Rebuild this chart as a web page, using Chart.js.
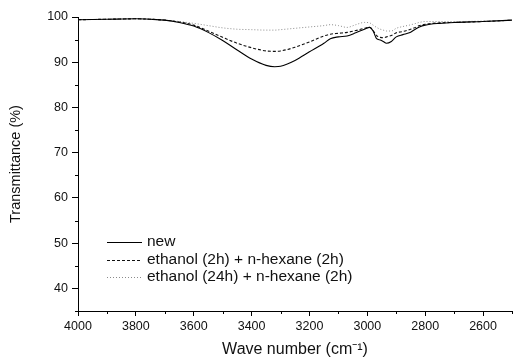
<!DOCTYPE html>
<html>
<head>
<meta charset="utf-8">
<script src="https://cdn.jsdelivr.net/npm/chart.js@4"></script>
<style>
  html, body { margin: 0; padding: 0; background: #fff; }
</style>
</head>
<body>
<canvas id="ftirChart" width="515" height="360"></canvas>
<script>
// wave numbers (cm-1) shared by all three spectra
const waveNumbers = [4000, 3900, 3800, 3750, 3700, 3650, 3600, 3550, 3500, 3450, 3400, 3350, 3320, 3300, 3250, 3200, 3150, 3128, 3100, 3070, 3040, 3010, 2992, 2980, 2968, 2955, 2945, 2934, 2917, 2900, 2877, 2855, 2837, 2820, 2800, 2750, 2700, 2600, 2500];

const newSample = [99.4, 99.5, 99.6, 99.5, 99.3, 98.8, 98.0, 96.6, 94.8, 92.7, 90.7, 89.3, 89.0, 89.1, 90.4, 92.3, 94.2, 95.2, 95.6, 95.8, 96.5, 97.3, 97.7, 96.9, 95.2, 94.9, 94.6, 94.2, 94.6, 95.6, 96.1, 96.5, 97.2, 97.8, 98.2, 98.6, 98.8, 99.0, 99.3];
const ethanol2h = [99.4, 99.5, 99.6, 99.5, 99.3, 98.9, 98.2, 96.9, 95.5, 94.2, 93.2, 92.5, 92.4, 92.5, 93.3, 94.5, 95.8, 96.2, 96.4, 96.6, 97.0, 97.5, 97.7, 97.0, 95.9, 95.5, 95.4, 95.6, 95.9, 96.5, 96.8, 97.2, 97.6, 98.1, 98.4, 98.7, 98.8, 99.0, 99.3];
const ethanol24h = [99.4, 99.5, 99.6, 99.5, 99.3, 99.0, 98.6, 98.1, 97.6, 97.3, 97.2, 97.1, 97.1, 97.2, 97.5, 97.8, 98.1, 98.3, 98.1, 97.7, 98.3, 98.8, 98.7, 98.2, 97.7, 97.3, 97.1, 96.9, 96.9, 97.5, 97.9, 98.2, 98.5, 98.8, 99.0, 99.0, 99.0, 99.1, 99.3];

const seriesLabels = ['new', 'ethanol (2h) + n-hexane (2h)', 'ethanol (24h) + n-hexane (2h)'];
const xTickLabels = [4000, 3800, 3600, 3400, 3200, 3000, 2800, 2600];
const yTickLabels = [40, 50, 60, 70, 80, 90, 100];

const FONT = '"Liberation Sans", Arial, sans-serif';

function toPoints(ys) {
  return waveNumbers.map((w, i) => ({ x: w, y: ys[i] }));
}

// short minor ticks between the labelled ones
const minorTicks = {
  id: 'minorTicks',
  afterDraw(chart) {
    const ctx = chart.ctx;
    const xs = chart.scales.x, ys = chart.scales.y;
    ctx.save();
    ctx.strokeStyle = '#000';
    ctx.lineWidth = 1;
    ctx.beginPath();
    for (let w = 2500; w <= 4000; w += 100) {
      if (xTickLabels.includes(w)) continue;
      const px = Math.round(xs.getPixelForValue(w)) + 0.5;
      ctx.moveTo(px, ys.bottom);
      ctx.lineTo(px, ys.bottom + 3);
    }
    for (let v = 35; v <= 100; v += 5) {
      if (yTickLabels.includes(v)) continue;
      const py = Math.round(ys.getPixelForValue(v)) + 0.5;
      ctx.moveTo(xs.left, py);
      ctx.lineTo(xs.left - 3, py);
    }
    ctx.stroke();
    ctx.restore();
  }
};

// legend drawn inside the plot, lower left
const insideLegend = {
  id: 'insideLegend',
  afterDraw(chart) {
    const ctx = chart.ctx;
    const x0 = 107, x1 = 142, tx = 147;
    const rows = [242, 260, 277];
    ctx.save();
    ctx.font = '15.5px ' + FONT;
    ctx.textBaseline = 'middle';
    chart.data.datasets.forEach((ds, i) => {
      ctx.strokeStyle = ds.borderColor;
      ctx.lineWidth = ds.borderWidth;
      ctx.setLineDash(ds.borderDash || []);
      ctx.beginPath();
      ctx.moveTo(x0, rows[i] + 0.5);
      ctx.lineTo(x1, rows[i] + 0.5);
      ctx.stroke();
      ctx.setLineDash([]);
      ctx.fillStyle = '#111';
      ctx.fillText(ds.label, tx, rows[i]);
    });
    ctx.restore();
  }
};

new Chart(document.getElementById('ftirChart').getContext('2d'), {
  type: 'line',
  data: {
    datasets: [
      { label: seriesLabels[0], data: toPoints(newSample), borderColor: '#000', borderWidth: 1.1 },
      { label: seriesLabels[1], data: toPoints(ethanol2h), borderColor: '#111', borderWidth: 1.1, borderDash: [3, 2] },
      { label: seriesLabels[2], data: toPoints(ethanol24h), borderColor: '#8a8a8a', borderWidth: 1, borderDash: [1, 2] }
    ]
  },
  options: {
    responsive: false,
    animation: false,
    events: [],
    layout: { padding: { top: 17, right: 0, left: 0, bottom: 0 } },
    elements: {
      point: { radius: 0 },
      line: { cubicInterpolationMode: 'monotone', fill: false }
    },
    plugins: {
      legend: { display: false },
      tooltip: { enabled: false }
    },
    scales: {
      x: {
        type: 'linear',
        reverse: true,
        min: 2500,
        max: 4000,
        afterFit(scale) { scale.height = 49; },
        border: { color: '#000', width: 1 },
        grid: {
          drawOnChartArea: false,
          tickLength: 5,
          tickColor: (c) => xTickLabels.includes(c.tick && c.tick.value) ? '#000' : 'rgba(0,0,0,0)'
        },
        ticks: {
          stepSize: 100,
          autoSkip: false,
          maxRotation: 0,
          padding: 3,
          color: '#111',
          font: { family: FONT, size: 12.5 },
          callback: (v) => xTickLabels.includes(v) ? String(v) : ''
        },
        title: {
          display: true,
          text: 'Wave number (cm\u207B\u00B9)',
          color: '#111',
          font: { family: FONT, size: 16 },
          padding: { top: 1, bottom: 1 }
        }
      },
      y: {
        min: 35,
        max: 100,
        afterFit(scale) { scale.width = 78; },
        border: { color: '#000', width: 1 },
        grid: {
          drawOnChartArea: false,
          tickLength: 6,
          tickColor: (c) => yTickLabels.includes(c.tick && c.tick.value) ? '#000' : 'rgba(0,0,0,0)'
        },
        ticks: {
          stepSize: 5,
          autoSkip: false,
          padding: 4,
          color: '#111',
          font: { family: FONT, size: 12.5 },
          callback: (v) => yTickLabels.includes(v) ? String(v) : ''
        },
        title: {
          display: true,
          text: 'Transmittance (%)',
          color: '#111',
          font: { family: FONT, size: 14.5 },
          padding: { top: 7, bottom: 0 }
        }
      }
    }
  },
  plugins: [minorTicks, insideLegend]
});
</script>
</body>
</html>
